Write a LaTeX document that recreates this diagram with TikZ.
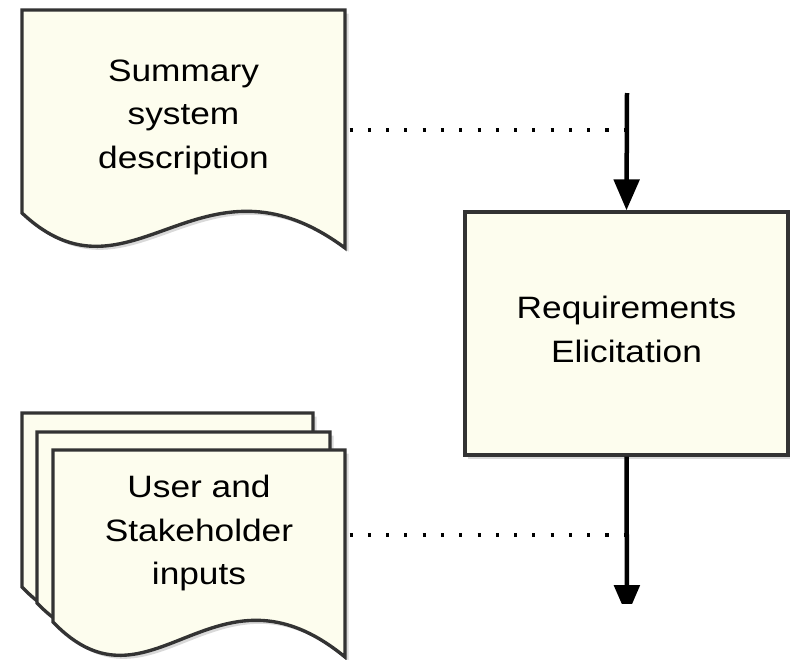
\documentclass[tikz,border=0pt]{standalone}
\usepackage{fontspec}
\newfontfamily\diagfont[FakeStretch=1.14]{Liberation Sans}
\usetikzlibrary{arrows.meta,shadows}
\definecolor{paperfill}{RGB}{253,253,238}
\definecolor{edgegrey}{RGB}{51,51,51}
\tikzset{
  sheet/.style={fill=paperfill,draw=edgegrey,line width=2.4pt,drop shadow={shadow xshift=2.5pt,shadow yshift=-2.5pt,opacity=0.3}},
  flow/.style={line width=3.2pt,-{Triangle[length=22pt,width=18pt]}},
  link/.style={line width=2.2pt,dash pattern=on 2.2pt off 10.8pt},
  doctext/.style={font=\diagfont\fontsize{22}{31}\selectfont,align=center}
}
% left, right, top, bottom of left edge
\newcommand{\paper}[4]{%
  \path[sheet](#1,#3)--(#2,#3)--(#2,{#4+35})..controls({#1+0.55*(#2-#1)},{#4-73})and({#1+0.335*(#2-#1)},{#4+102})..(#1,#4)--cycle;}

\begin{document}
\begin{tikzpicture}[x=0.025cm,y=-0.025cm]
        \useasboundingbox(0,0)rectangle(790,659);

        \paper{22}{345}{10}{213}
        \node[doctext,minimum width=8.075cm](sumdoc)at(183.5,117){Summary\\system\\description};

        \paper{22}{313}{413}{587}
        \paper{37}{330}{432}{603}
        \paper{53}{345}{450}{622}
        \node[doctext,minimum width=7.3cm](userdoc)at(199,533){User and\\Stakeholder\\inputs};

        \node[sheet,minimum width=8.075cm,minimum height=6.075cm](elicit)at(626.5,333.5){};
        \node[doctext](elicittext)at(626.5,329.5){Requirements\\Elicitation};

        \coordinate(in)at(627,93);
        \coordinate(j1)at(627,130);
        \coordinate(j2)at(627,535);
        \coordinate(out)at(627,616);

        \draw[flow](in)--(elicit.north);
        \begin{scope}
            \clip(0,0)rectangle(790,603);
            \draw[flow](elicit.south)--(out);
        \end{scope}

        \draw[link,shorten <=3pt](sumdoc.east|-j1)--(j1);
        \draw[link,shorten <=3pt](userdoc.east|-j2)--(j2);
    \end{tikzpicture}
\end{document}
